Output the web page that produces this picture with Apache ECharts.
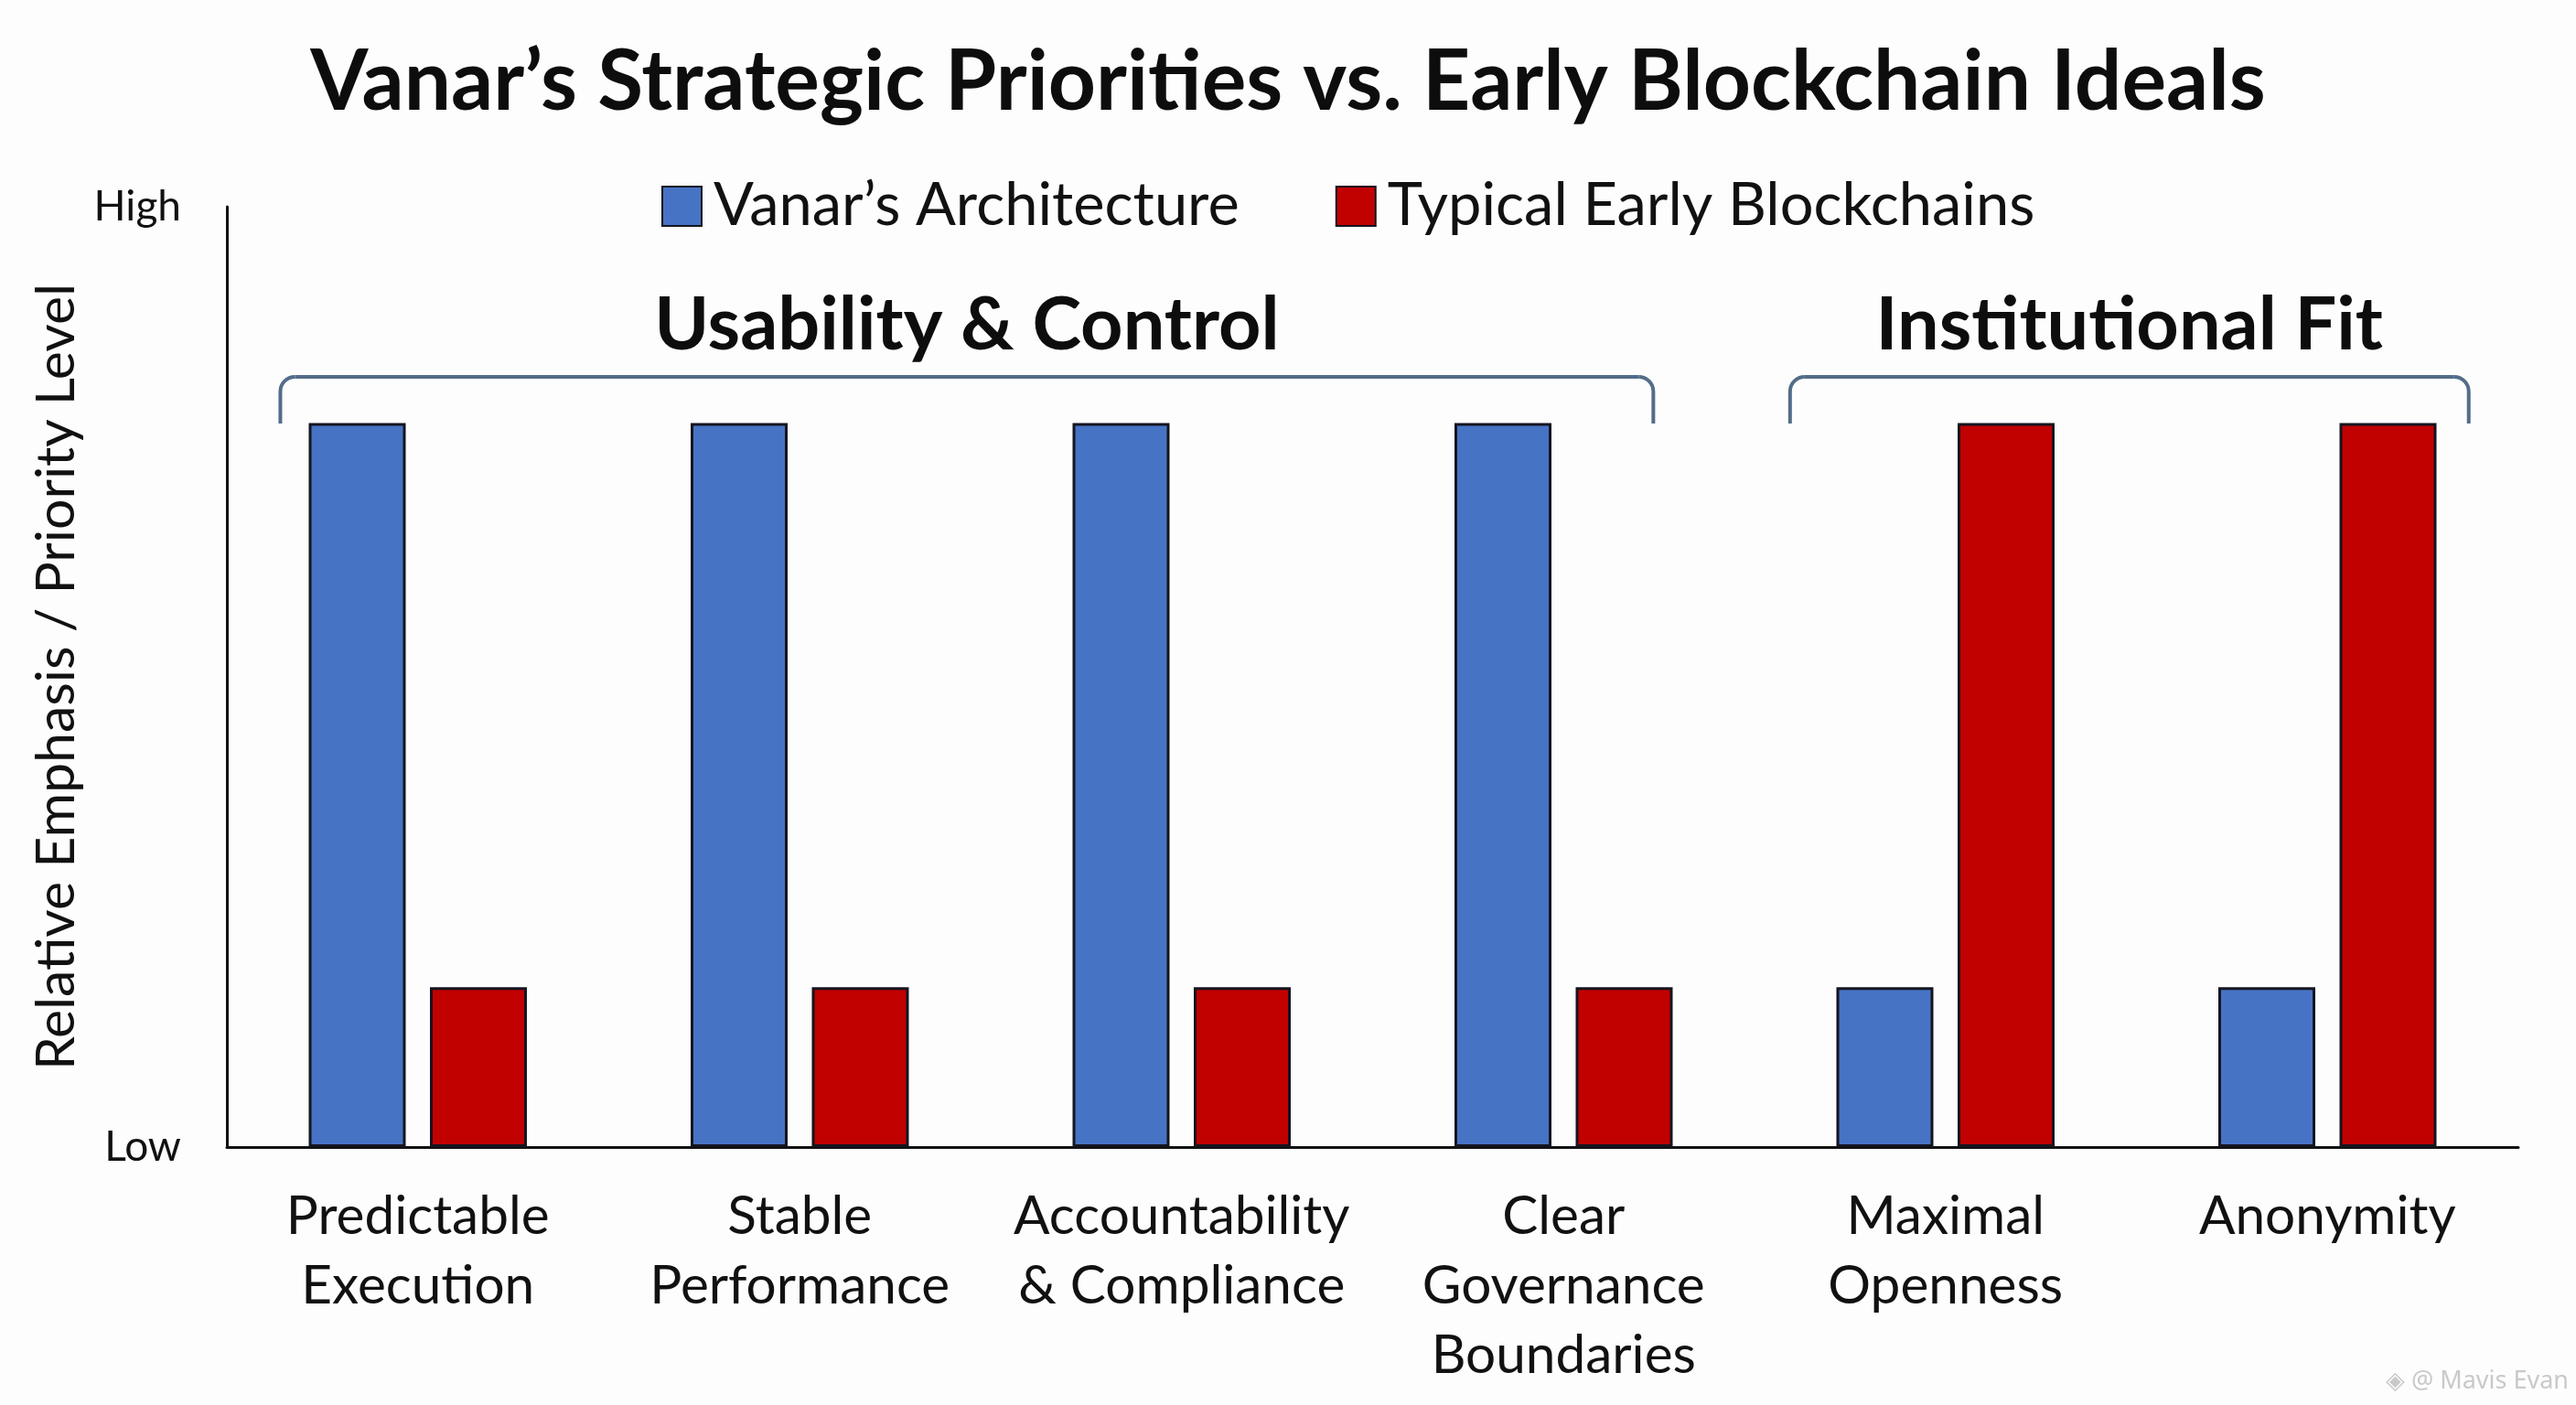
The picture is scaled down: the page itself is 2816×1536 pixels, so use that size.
<!DOCTYPE html>
<html><head><meta charset="utf-8">
<script src="https://cdn.jsdelivr.net/npm/echarts@6/dist/echarts.min.js"></script>
<style>html,body{margin:0;padding:0;background:#fdfdfd}#c{width:2816px;height:1536px}</style>
</head><body><div id="c"></div>
<script>
// ---- data ----
const categories = ['Predictable\nExecution', 'Stable\nPerformance', 'Accountability\n& Compliance', 'Clear\nGovernance\nBoundaries', 'Maximal\nOpenness', 'Anonymity'];
const vanarValues = [7.7, 7.7, 7.7, 7.7, 1.7, 1.7];
const earlyValues = [1.7, 1.7, 1.7, 1.7, 7.7, 7.7];
const seriesNames = ['Vanar\u2019s Architecture', 'Typical Early Blockchains'];
const yTickLabels = { 0: 'Low', 10: 'High' };
const groupNames = ['Usability & Control', 'Institutional Fit'];
const groupFrom = [0, 4];
const groupTo = [3, 5];
const titleText = 'Vanar\u2019s Strategic Priorities vs. Early Blockchain Ideals';
const yAxisName = 'Relative Emphasis / Priority Level';

// ---- style ----
const FONT = 'Lato';
const BLUE = '#4773c5';
const RED = '#c10000';
const BORDER = '#15151f';
const BRACKET = '#536d89';
const bracketPadL = [0.36, 0.407];
const bracketPadR = [0.235, 0.37];

const chart = echarts.init(document.getElementById('c'), null, { renderer: 'canvas' });
const option = {
  backgroundColor: '#fdfdfd',
  animation: false,
  title: {
    text: titleText, left: 'center', top: 40,
    textStyle: { fontFamily: FONT, fontWeight: 'bold', fontSize: 91, color: '#0d0d0d' }
  },
  legend: {
    left: 718, top: 188,
    itemWidth: 43, itemHeight: 43, itemGap: 105, icon: 'rect',
    textStyle: { fontFamily: FONT, fontSize: 65, color: '#111', padding: [0, 0, 0, 8] },
    data: seriesNames
  },
  grid: { left: 248, right: 63, top: 226, bottom: 282, containLabel: false },
  xAxis: {
    type: 'category', data: categories,
    axisLine: { lineStyle: { color: '#111', width: 3 } },
    axisTick: { show: false },
    axisLabel: { fontFamily: FONT, fontSize: 58.5, color: '#111', lineHeight: 76, margin: 38, interval: 0 }
  },
  yAxis: {
    type: 'value', min: 0, max: 10, interval: 10,
    name: yAxisName, nameLocation: 'middle', nameGap: 137, nameRotate: 90,
    nameTextStyle: { fontFamily: FONT, fontSize: 59, color: '#111' },
    axisLine: { show: true, lineStyle: { color: '#111', width: 3 } },
    axisTick: { show: false },
    splitLine: { show: false },
    axisLabel: { fontFamily: FONT, fontSize: 46, color: '#111', margin: 50,
      formatter: v => (yTickLabels[v] !== undefined ? yTickLabels[v] : '') }
  },
  series: [
    { name: seriesNames[0], type: 'bar', data: vanarValues, barWidth: 106, barGap: '25%',
      itemStyle: { color: BLUE, borderColor: BORDER, borderWidth: 3 } },
    { name: seriesNames[1], type: 'bar', data: earlyValues, barWidth: 106,
      itemStyle: { color: RED, borderColor: BORDER, borderWidth: 3 } }
  ]
};
chart.setOption(option);

// brackets and group labels positioned from the category scale
const c0 = chart.convertToPixel({ xAxisIndex: 0 }, 0);
const c1 = chart.convertToPixel({ xAxisIndex: 0 }, 1);
const band = c1 - c0;
const yt = 412, yb = 463, r = 16;
const graphics = [];
groupNames.forEach((g, i) => {
  const x1 = chart.convertToPixel({ xAxisIndex: 0 }, groupFrom[i]) - bracketPadL[i] * band;
  const x2 = chart.convertToPixel({ xAxisIndex: 0 }, groupTo[i]) + bracketPadR[i] * band;
  const st = { stroke: BRACKET, lineWidth: 4, fill: null };
  graphics.push({ type: 'line', shape: { x1: x1, y1: yb, x2: x1, y2: yt + r }, style: st });
  graphics.push({ type: 'arc', shape: { cx: x1 + r, cy: yt + r, r: r, startAngle: Math.PI, endAngle: Math.PI * 1.5, clockwise: true }, style: st });
  graphics.push({ type: 'line', shape: { x1: x1 + r, y1: yt, x2: x2 - r, y2: yt }, style: st });
  graphics.push({ type: 'arc', shape: { cx: x2 - r, cy: yt + r, r: r, startAngle: Math.PI * 1.5, endAngle: Math.PI * 2, clockwise: true }, style: st });
  graphics.push({ type: 'line', shape: { x1: x2, y1: yt + r, x2: x2, y2: yb }, style: st });
  graphics.push({ type: 'text', x: (x1 + x2) / 2, y: 356,
    style: { text: g, fontFamily: FONT, fontWeight: 'bold', fontSize: 81, fill: '#0d0d0d', textAlign: 'center', textVerticalAlign: 'middle' } });
});
graphics.push({ type: 'text', right: 8, bottom: 12,
  style: { text: '\u25C8 @ Mavis Evan', fontFamily: 'Noto Sans', fontSize: 27, fill: '#c9c9c9' } });
chart.setOption({ graphic: graphics });
</script>
</body></html>
